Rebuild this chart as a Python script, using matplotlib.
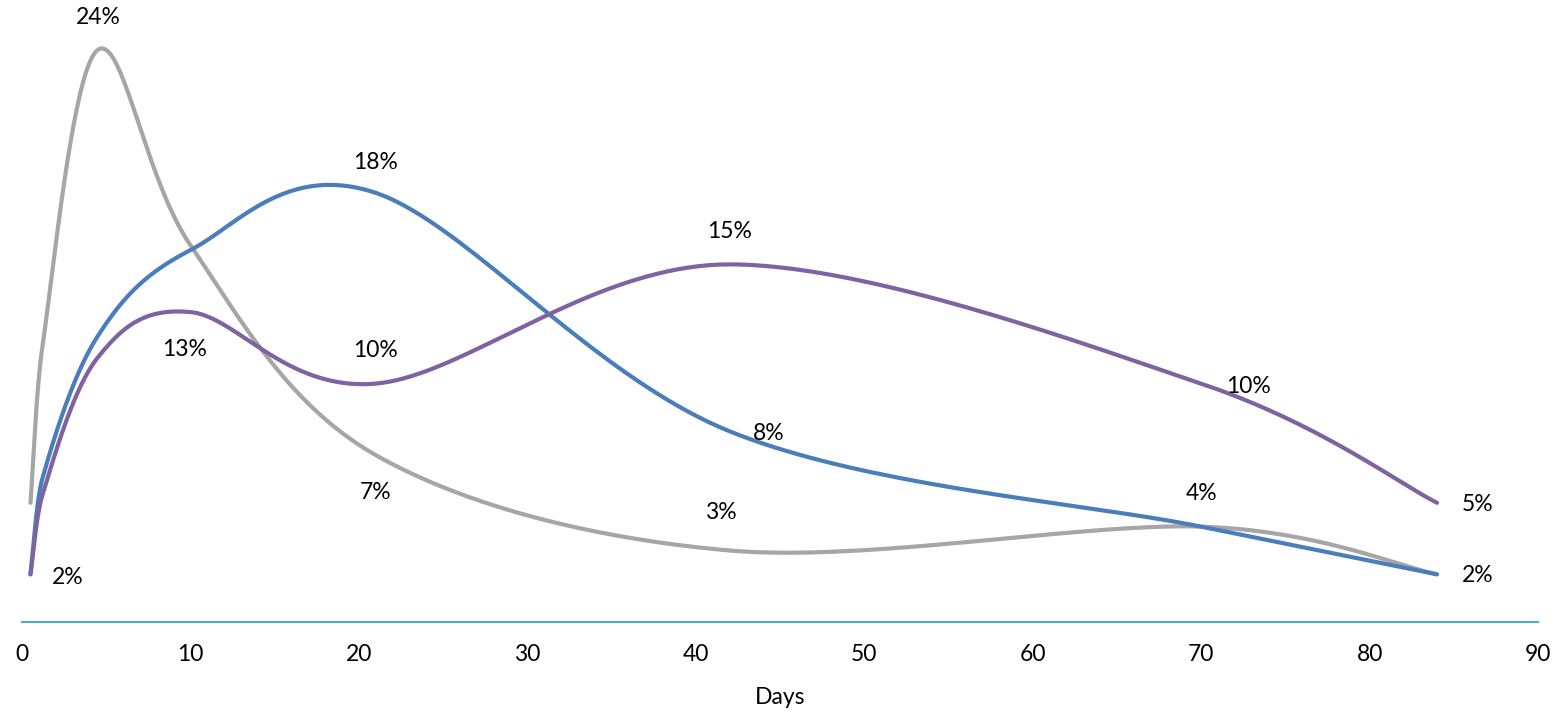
import numpy as np
import matplotlib.pyplot as plt

plt.rcParams['font.family'] = ['Lato', 'DejaVu Sans']

# Measurement days and the share (%) for each series
days = [0.5, 1.2, 4.5, 10, 21, 42, 70, 84]
blue = [2, 6, 12, 15.6, 18, 8, 4, 2]
gray = [5, 11.5, 24, 15.8, 7, 3, 4, 2]
purple = [2, 5.3, 11.1, 13, 10, 15, 10, 5]

colors = {'blue': '#4a7ebb', 'gray': '#a6a6a6', 'purple': '#7f62a1'}


def clamp(h, dx):
    # keep a handle inside its segment horizontally so the curve never loops back
    lim = abs(dx) / 2
    if abs(h[0]) > lim:
        h = h * lim / abs(h[0])
    return h


def smooth(x, y, steps=40):
    # Bezier smoothing through every point (like a spreadsheet "smoothed line")
    pts = np.column_stack([x, y]).astype(float)
    ext = np.vstack([pts[0], pts, pts[-1]])
    out = []
    for i in range(len(pts) - 1):
        p0, p1, p2, p3 = ext[i], ext[i + 1], ext[i + 2], ext[i + 3]
        dx = p2[0] - p1[0]
        c1 = p1 + clamp((p2 - p0) / 6, dx)
        c2 = p2 - clamp((p3 - p1) / 6, dx)
        t = np.linspace(0, 1, steps)[:, None]
        seg = ((1 - t) ** 3) * p1 + 3 * ((1 - t) ** 2) * t * c1 + 3 * (1 - t) * t ** 2 * c2 + t ** 3 * p2
        out.append(seg if i == 0 else seg[1:])
    out = np.vstack(out)
    return out[:, 0], out[:, 1]


fig = plt.figure(figsize=(15.64, 7.12), dpi=100)
ax = fig.add_axes([0.0141, 0.1264, 0.9693, 0.8706])

for vals, c in [(gray, colors['gray']), (blue, colors['blue']), (purple, colors['purple'])]:
    sx, sy = smooth(days, vals)
    ax.plot(sx, sy, color=c, lw=3, solid_capstyle='round')

# value labels: (series, point index, offset in points)
labels = [
    (purple, 0, (27, -2)),
    (gray, 2, (0, 23)),
    (purple, 3, (-4, -27)),
    (blue, 4, (0, 22)),
    (purple, 4, (0, 24)),
    (gray, 4, (0, -27)),
    (purple, 5, (0, 24)),
    (blue, 5, (28, -1.5)),
    (gray, 5, (-6.5, 27)),
    (purple, 6, (34, -2)),
    (gray, 6, (0, 24)),
    (purple, 7, (29, -1)),
    (gray, 7, (29, -1)),
]
for vals, i, off in labels:
    ax.annotate(f'{vals[i]:.0f}%', (days[i], vals[i]), xytext=off, textcoords='offset points',
                ha='center', va='center', fontsize=16.5)

ax.set_xlim(0, 90)
ax.set_ylim(0, 26)
ax.set_xticks(range(0, 91, 10))
ax.set_yticks([])
ax.tick_params(axis='x', length=0, pad=16, labelsize=16.5)
for s in ['top', 'left', 'right']:
    ax.spines[s].set_visible(False)
ax.spines['bottom'].set_color('#4bacc6')
ax.spines['bottom'].set_linewidth(1.5)
ax.set_xlabel('Days', fontsize=16.5, labelpad=16)

fig.savefig('out.png', dpi=100)
